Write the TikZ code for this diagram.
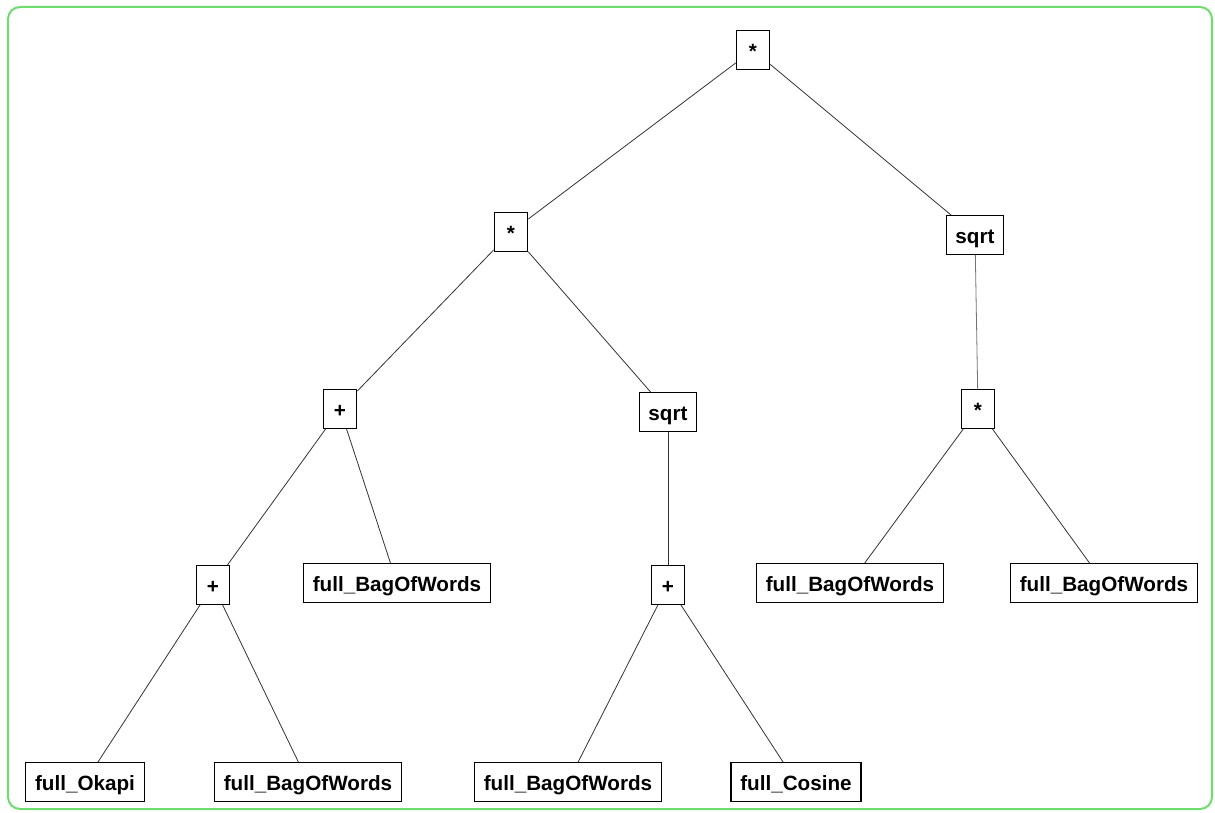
\documentclass[tikz,border=0pt]{standalone}
\usepackage{fontspec}
\setmainfont{Liberation Sans}
\definecolor{framegreen}{RGB}{110,220,110}
\begin{document}
\begin{tikzpicture}[x=0.75pt,y=-0.75pt,
  tnode/.style={draw=black,line width=0.9pt,fill=white,font=\bfseries\fontsize{15.5}{18}\selectfont,
    inner xsep=7pt,inner ysep=0pt,minimum height=29pt,minimum width=25pt,text depth=2pt,text height=14.5pt},
  edge/.style={draw=black!80,line width=0.6pt}]
\useasboundingbox (0,0) rectangle (1215,813);
% frame
\draw[draw=framegreen,line width=1.5pt,rounded corners=9pt] (8,7) rectangle (1212,809);
% nodes
\node[tnode] (r)   at (753,50)  {*};
\node[tnode] (m1)  at (511,232) {*};
\node[tnode] (s1)  at (975,235) {sqrt};
\node[tnode] (p1)  at (340,409) {+};
\node[tnode] (s2)  at (668,412) {sqrt};
\node[tnode] (m2)  at (978,409) {*};
\node[tnode] (p2)  at (213,585) {+};
\node[tnode] (b1)  at (397,583) {full\_BagOfWords};
\node[tnode] (p3)  at (668,585) {+};
\node[tnode] (b2)  at (850,583) {full\_BagOfWords};
\node[tnode] (b3)  at (1104,583) {full\_BagOfWords};
\node[tnode] (ok)  at (85,782)  {full\_Okapi};
\node[tnode] (b4)  at (308,782) {full\_BagOfWords};
\node[tnode] (b5)  at (568,782) {full\_BagOfWords};
\node[tnode] (co)  at (796,782) {full\_Cosine};
% connectors
\draw[edge] (r) -- (m1);
\draw[edge] (r) -- (s1);
\draw[edge] (m1) -- (p1);
\draw[edge] (m1) -- (s2);
\draw[edge,draw=black!55] (s1) -- (m2);
\draw[edge] (p1) -- (p2);
\draw[edge] (p1) -- (b1);
\draw[edge] (s2) -- (p3);
\draw[edge] (m2) -- (b2);
\draw[edge] (m2) -- (b3);
\draw[edge] (p2) -- (ok);
\draw[edge] (p2) -- (b4);
\draw[edge] (p3) -- (b5);
\draw[edge] (p3) -- (co);
\end{tikzpicture}
\end{document}
